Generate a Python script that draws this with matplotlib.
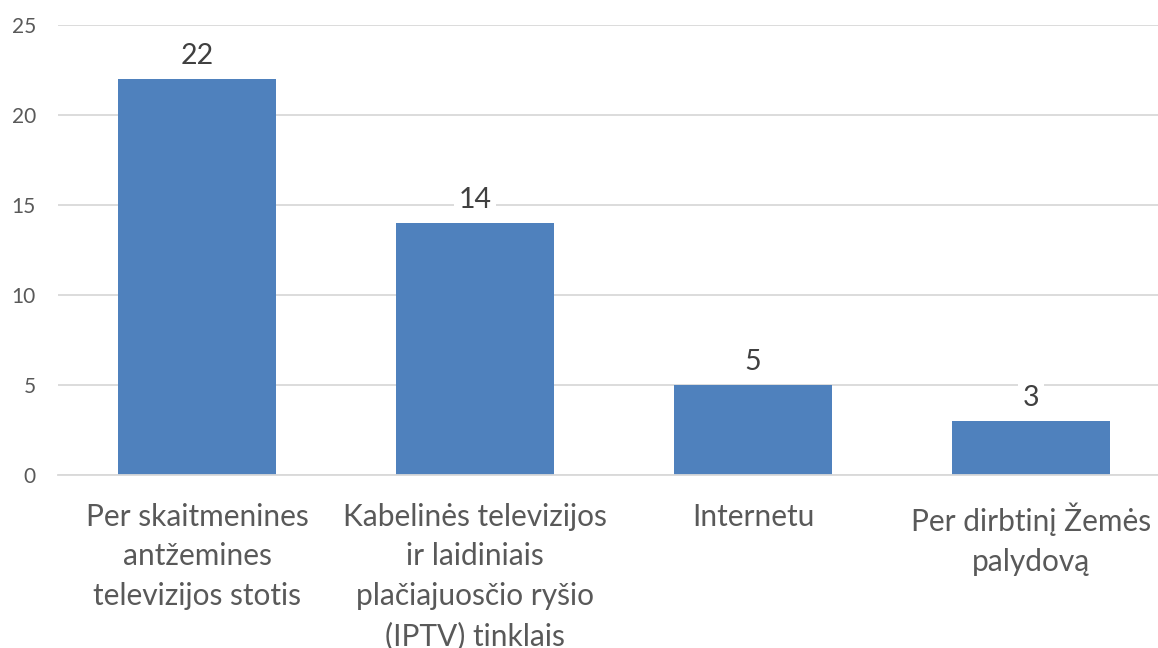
import numpy as np
import matplotlib.pyplot as plt

categories = ["Per skaitmenines\nantžemines\ntelevizijos stotis",
              "Kabelinės televizijos\nir laidiniais\nplačiajuosčio ryšio\n(IPTV) tinklais",
              "Internetu",
              "Per dirbtinį Žemės\npalydovą"]
values = [22, 14, 5, 3]
yticks = [0, 5, 10, 15, 20, 25]

plt.rcParams['font.family'] = ['Lato', 'DejaVu Sans']

fig = plt.figure(figsize=(11.58, 6.48), dpi=100)
ax = fig.add_axes([58/1158, 173/648, 1100/1158, 450/648])

x = np.arange(len(values))
ax.bar(x, values, width=0.568, color='#4F81BD', zorder=2)

for xi, v in zip(x, values):
    ax.text(xi, v + 0.55, str(v), ha='center', va='bottom', fontsize=20.5,
            color='#404040', zorder=3,
            bbox=dict(facecolor='white', edgecolor='none', pad=3))

ax.set_xlim(-0.5, 3.457)
ax.set_ylim(0, 25)
ax.set_yticks(yticks)
ax.yaxis.grid(True, color='#D9D9D9', linewidth=1.3, zorder=0)
ax.set_axisbelow(True)
for s in ['top', 'right', 'left']:
    ax.spines[s].set_visible(False)
ax.spines['bottom'].set_color('#D9D9D9')
ax.spines['bottom'].set_linewidth(1.3)
ax.tick_params(axis='both', length=0, colors='#595959')
ax.tick_params(axis='y', labelsize=15, pad=16)
ax.set_xticks(x)
ax.set_xticklabels(categories, fontsize=21.5, linespacing=1.5)
ax.tick_params(axis='x', pad=20)

fig.savefig('out.png', dpi=100)
